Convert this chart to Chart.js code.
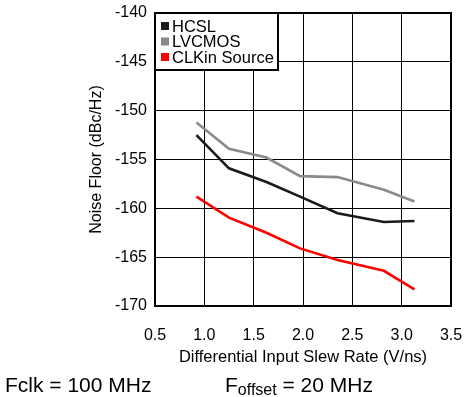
<!DOCTYPE html>
<html>
<head>
<meta charset="utf-8">
<script src="https://cdn.jsdelivr.net/npm/chart.js@4"></script>
<style>
  body { margin: 0; background: #fff; }
  .wrap { position: relative; width: 464px; height: 397px; }
  .note { position: absolute; font-family: "Liberation Sans", Arial, sans-serif; font-size: 21px; line-height: 21px; color: #000; white-space: nowrap; }
  .note sub { font-size: 16px; position: relative; top: 3px; vertical-align: baseline; }
</style>
</head>
<body>
<div class="wrap">
  <canvas id="chart" width="464" height="397"></canvas>
  <div class="note" style="left:5px; top:374px;">Fclk = 100 MHz</div>
  <div class="note" style="left:225px; top:374px;">F<sub>offset</sub> = 20 MHz</div>
</div>
<script>
const slewRates = [0.92, 1.25, 1.63, 1.97, 2.35, 2.82, 3.13];
const hcsl = [-152.5, -155.9, -157.3, -158.8, -160.5, -161.4, -161.3];
const lvcmos = [-151.2, -153.9, -154.8, -156.7, -156.8, -158.1, -159.3];
const clkinSource = [-158.8, -160.95, -162.5, -164.1, -165.3, -166.4, -168.3];
const seriesNames = ['HCSL', 'LVCMOS', 'CLKin Source'];
const seriesColors = ['#1a1a1a', '#8a8a8a', '#ff0000'];
const xTicks = [0.5, 1.0, 1.5, 2.0, 2.5, 3.0, 3.5];
const yTicks = [-170, -165, -160, -155, -150, -145, -140];

const fontFamily = '"Liberation Sans", Arial, sans-serif';

function points(values) {
  return values.map((v, i) => ({ x: slewRates[i], y: v }));
}

// thick frame round the plot plus the boxed legend in the top-left corner
const framePlugin = {
  id: 'frame',
  afterDraw(chart) {
    const ctx = chart.ctx;
    const a = chart.chartArea;
    ctx.save();
    ctx.strokeStyle = '#000';
    ctx.lineWidth = 2;
    ctx.strokeRect(a.left, a.top, a.right - a.left, a.bottom - a.top);

    const boxW = 123, boxH = 57;
    ctx.fillStyle = '#fff';
    ctx.fillRect(a.left, a.top, boxW, boxH);
    ctx.strokeRect(a.left, a.top, boxW, boxH);

    ctx.font = '16.5px ' + fontFamily;
    ctx.textBaseline = 'middle';
    chart.data.datasets.forEach((ds, i) => {
      const y = a.top + 13 + i * 15.5;
      ctx.fillStyle = ds.borderColor;
      ctx.fillRect(a.left + 6, y - 4, 8, 8);
      ctx.fillStyle = '#000';
      ctx.fillText(ds.label, a.left + 17, y + 1);
    });
    ctx.restore();
  }
};

function noPadding(scale) {
  scale.paddingLeft = 0;
  scale.paddingRight = 0;
  scale.paddingTop = 0;
  scale.paddingBottom = 0;
}

new Chart(document.getElementById('chart'), {
  type: 'line',
  data: {
    datasets: [hcsl, lvcmos, clkinSource].map((vals, i) => ({
      label: seriesNames[i],
      data: points(vals),
      borderColor: seriesColors[i],
      backgroundColor: seriesColors[i],
      borderWidth: 2.6,
      pointRadius: 0,
      tension: 0
    }))
  },
  options: {
    responsive: false,
    animation: false,
    devicePixelRatio: 1,
    layout: { padding: { top: 13, right: 13, left: 0, bottom: 0 } },
    plugins: {
      legend: { display: false },
      tooltip: { enabled: false }
    },
    scales: {
      x: {
        type: 'linear',
        min: 0.5,
        max: 3.5,
        afterFit(scale) { scale.height = 91; noPadding(scale); },
        afterBuildTicks(scale) { scale.ticks = xTicks.map(v => ({ value: v })); },
        ticks: {
          color: '#000',
          padding: 20,
          font: { family: fontFamily, size: 16 },
          callback: v => v.toFixed(1)
        },
        grid: { color: '#000', lineWidth: 1, drawTicks: false },
        border: { display: false },
        title: {
          display: true,
          text: 'Differential Input Slew Rate (V/ns)',
          color: '#000',
          font: { family: fontFamily, size: 16.5 },
          padding: { top: 0, bottom: 30 }
        }
      },
      y: {
        min: -170,
        max: -140,
        afterFit(scale) { scale.width = 155; noPadding(scale); },
        afterBuildTicks(scale) { scale.ticks = yTicks.map(v => ({ value: v })); },
        ticks: {
          color: '#000',
          padding: 8,
          font: { family: fontFamily, size: 16 }
        },
        grid: { color: '#000', lineWidth: 1, drawTicks: false },
        border: { display: false },
        title: {
          display: true,
          text: 'Noise Floor (dBc/Hz)',
          color: '#000',
          font: { family: fontFamily, size: 16 },
          padding: { top: 87, bottom: 0 }
        }
      }
    }
  },
  plugins: [framePlugin]
});
</script>
</body>
</html>
